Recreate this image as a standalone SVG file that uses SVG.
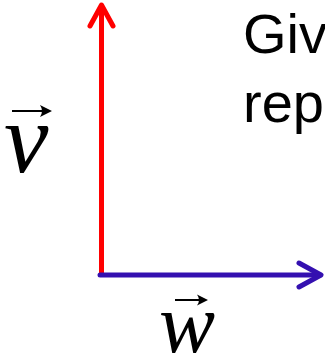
<svg xmlns="http://www.w3.org/2000/svg" width="325" height="357" viewBox="0 0 325 357">
<style>
.math{font-family:"Liberation Serif","Times New Roman",serif;font-style:italic;fill:#000}
.body{font-family:"Liberation Sans",Arial,sans-serif;font-size:56px;fill:#000}
.vec{stroke:#000;stroke-width:2;fill:none}
.head{fill:#000;stroke:none}
</style>
<rect width="325" height="357" fill="#fff"/>
<g id="connectors" fill="none" stroke-width="5" stroke-linecap="round" stroke-linejoin="round">
<g id="vector-v-arrow" stroke="#ff0000">
<line x1="101.5" y1="274" x2="101.5" y2="6"/>
<polyline points="90,26 101.5,5 113,26"/>
</g>
<g id="vector-w-arrow" stroke="#3410b0">
<line x1="100" y1="275" x2="320" y2="275"/>
<polyline points="299,263 321,275 299,287"/>
</g>
</g>
<g id="label-v">
<line class="vec" x1="12" y1="111" x2="48" y2="111"/>
<path class="head" d="M52,111 L40,105 Q44,111 40,117 Z"/>
<text class="math" x="4" y="172" font-size="100">v</text>
</g>
<g id="label-w">
<line class="vec" x1="175" y1="300" x2="204" y2="300"/>
<path class="head" d="M208,300 L197,294.5 Q201,300 197,305.5 Z"/>
<text class="math" x="159" y="352" font-size="84">w</text>
</g>
<g id="caption">
<text class="body" x="243" y="53">Giv</text>
<text class="body" x="243" y="122">rep</text>
</g>
</svg>
